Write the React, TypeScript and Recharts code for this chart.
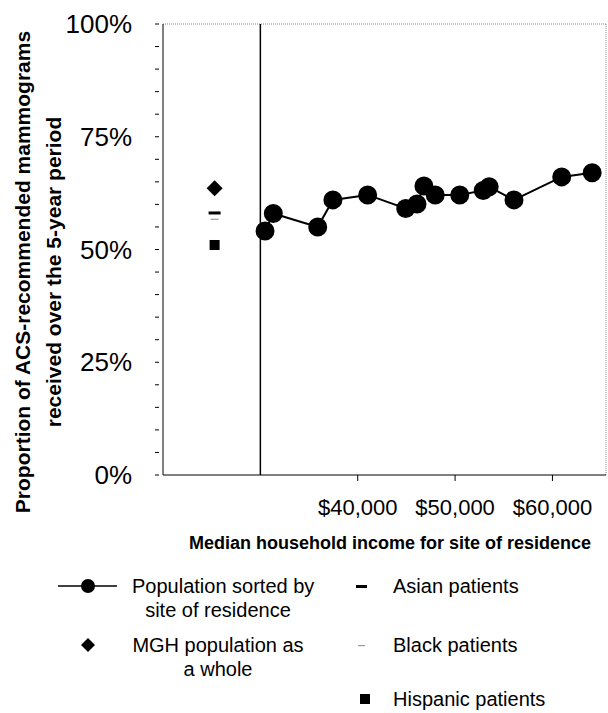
import React from "react";
import { ComposedChart, Line, Scatter, XAxis, YAxis, ReferenceLine } from "recharts";

const incomes = [30480, 31330, 35890, 37450, 41020, 44930, 46090, 46800, 47960, 50480, 52890, 53500, 56050, 60950, 64080];
const proportions = [54.1, 58.0, 55.0, 61.0, 62.1, 59.1, 60.1, 64.1, 62.1, 62.1, 63.1, 63.9, 61.0, 66.1, 67.0];
const groupX = 25300;
const mghValue = [63.6];
const asianValue = [58.1];
const blackValue = [56.7];
const hispanicValue = [51.0];
const yTicks = [0, 5, 10, 15, 20, 25, 30, 35, 40, 45, 50, 55, 60, 65, 70, 75, 80, 85, 90, 95, 100];
const xTicks = [40000, 50000, 60000];

const lineData = incomes.map((x, i) => ({ x, y: proportions[i] }));
const font = "Arial, 'Liberation Sans', sans-serif";

const YTick = (p: any) => {
  const v = p.payload.value;
  return (
    <g>
      <line x1={p.x} x2={p.x + 4} y1={p.y} y2={p.y} stroke="#000" />
      {v % 25 === 0 && (
        <text x={p.x - 23} y={p.y + 9} textAnchor="end" fontSize={26} fontFamily={font} fill="#000">{v}%</text>
      )}
    </g>
  );
};
const XTick = (p: any) => (
  <g>
    <line x1={p.x} x2={p.x} y1={p.y - 8} y2={p.y - 2} stroke="#000" />
    <text x={p.x} y={p.y + 32} textAnchor="middle" fontSize={22} fontFamily={font} fill="#000">
      ${p.payload.value.toLocaleString("en-US")}
    </text>
  </g>
);

const Diamond = (p: any) => <path d={`M${p.cx},${p.cy - 8} L${p.cx + 8},${p.cy} L${p.cx},${p.cy + 8} L${p.cx - 8},${p.cy} Z`} fill="#000" />;
const Square = (p: any) => <rect x={p.cx - 5} y={p.cy - 5} width={10} height={10} fill="#000" />;
const Dash = (p: any) => <rect x={p.cx - 6} y={p.cy - 1.5} width={12} height={3} fill="#000" />;
const ThinDash = (p: any) => <rect x={p.cx - 4} y={p.cy - 0.6} width={8} height={1.2} fill="#999" />;

const lt: React.CSSProperties = { position: "absolute", fontSize: 20, fontFamily: font, color: "#000", lineHeight: "24px", textAlign: "center", whiteSpace: "nowrap" };

export default function App() {
  return (
    <div style={{ position: "absolute", left: 0, top: 0, width: 608, height: 713, background: "#fff" }}>
      <ComposedChart width={608} height={535} margin={{ top: 24, right: 2, left: 0, bottom: 0 }}>
        <XAxis type="number" dataKey="x" height={60} domain={[20000, 65500]} ticks={xTicks} tick={<XTick />} tickLine={false} axisLine={{ stroke: "#000" }} allowDataOverflow />
        <YAxis type="number" domain={[0, 100]} ticks={yTicks} width={163} tick={<YTick />} tickLine={false} axisLine={{ stroke: "#000" }} interval={0} />
        <ReferenceLine y={100} stroke="#888" strokeDasharray="1 1" />
        <ReferenceLine x={65500} stroke="#888" strokeDasharray="1 1" />
        <ReferenceLine x={30000} stroke="#000" strokeWidth={1.5} />
        <Line data={lineData} dataKey="y" stroke="#000" strokeWidth={2} dot={{ r: 8.5, fill: "#000", stroke: "#000" }} isAnimationActive={false} />
        <Scatter data={mghValue.map((y) => ({ x: groupX, y }))} dataKey="y" shape={<Diamond />} isAnimationActive={false} />
        <Scatter data={asianValue.map((y) => ({ x: groupX, y }))} dataKey="y" shape={<Dash />} isAnimationActive={false} />
        <Scatter data={blackValue.map((y) => ({ x: groupX, y }))} dataKey="y" shape={<ThinDash />} isAnimationActive={false} />
        <Scatter data={hispanicValue.map((y) => ({ x: groupX, y }))} dataKey="y" shape={<Square />} isAnimationActive={false} />
      </ComposedChart>
      <svg style={{ position: "absolute", left: 0, top: 0 }} width={100} height={560}>
        <text transform="translate(30,272) rotate(-90)" textAnchor="middle" fontSize={21} fontWeight="bold" fontFamily={font}>Proportion of ACS-recommended mammograms</text>
        <text transform="translate(61,272) rotate(-90)" textAnchor="middle" fontSize={21} fontWeight="bold" fontFamily={font}>received over the 5-year period</text>
      </svg>
      <div style={{ ...lt, left: 170, top: 531, width: 421, fontWeight: "bold", fontSize: 18, textAlign: "right" }}>Median household income for site of residence</div>
      <svg style={{ position: "absolute", left: 0, top: 560 }} width={608} height={153}>
        <line x1={58} x2={117} y1={26} y2={26} stroke="#000" strokeWidth={1.5} />
        <circle cx={88} cy={26} r={7} fill="#000" />
        <path d="M88,78 L95,85 L88,92 L81,85 Z" fill="#000" />
        <rect x={356} y={25} width={11} height={3} fill="#000" />
        <rect x={358} y={85} width={7} height={1.2} fill="#999" />
        <rect x={360} y={134} width={10} height={10} fill="#000" />
      </svg>
      <div style={{ ...lt, left: 132, top: 574, width: 172 }}>Population sorted by<br />site of residence</div>
      <div style={{ ...lt, left: 132, top: 633, width: 172 }}>MGH population as<br />a whole</div>
      <div style={{ ...lt, left: 393, top: 574, textAlign: "left" }}>Asian patients</div>
      <div style={{ ...lt, left: 393, top: 633, textAlign: "left" }}>Black patients</div>
      <div style={{ ...lt, left: 393, top: 687, textAlign: "left" }}>Hispanic patients</div>
    </div>
  );
}
